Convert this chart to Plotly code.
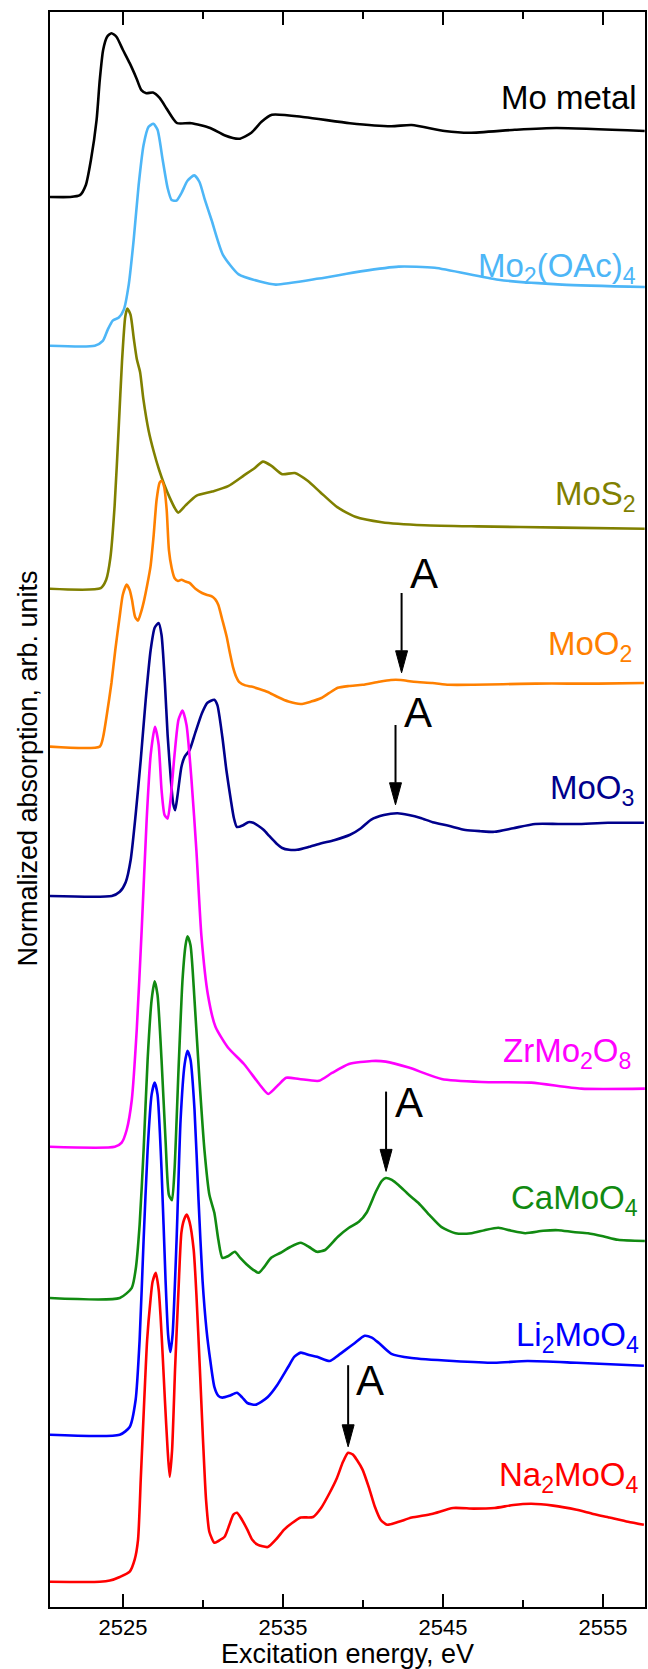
import plotly.graph_objects as go

# ---- Mo L3-edge XANES spectra (normalized absorption, stacked) ----
energy_mo_metal = [2520.44, 2521.69, 2522.31, 2522.68, 2523.0, 2523.35, 2523.55, 2523.76, 2524.01, 2524.28,
                   2524.59, 2525.0, 2525.42, 2525.84, 2526.15, 2526.46, 2526.87, 2527.29, 2527.71, 2528.12,
                   2528.39, 2529.28, 2530.45, 2531.34, 2532.25, 2533.02, 2533.64, 2534.31, 2536.37, 2539.18,
                   2541.77, 2543.04, 2545.1, 2546.65, 2549.49, 2552.07, 2557.6]
mu_mo_metal = [0, 0, 0.03, 0.2, 0.62, 1.28, 1.95, 2.45, 2.67, 2.73,
               2.67, 2.45, 2.23, 1.98, 1.78, 1.73, 1.74, 1.65, 1.48, 1.31,
               1.23, 1.23, 1.15, 1.03, 0.97, 1.07, 1.25, 1.37, 1.33, 1.23,
               1.18, 1.2, 1.1, 1.07, 1.12, 1.15, 1.1]

energy_mo2oac4 = [2520.44, 2523.24, 2523.74, 2524.05, 2524.36, 2524.74, 2525.05, 2525.36, 2525.67, 2525.98,
                  2526.29, 2526.6, 2526.9, 2527.16, 2527.48, 2527.79, 2528.04, 2528.34, 2528.66, 2529.03,
                  2529.45, 2529.78, 2530.12, 2530.53, 2531.24, 2532.23, 2533.56, 2534.55, 2537.25, 2539.85,
                  2542.23, 2544.48, 2548.46, 2552.44, 2557.61]
mu_mo2oac4 = [0, 0, 0.08, 0.27, 0.42, 0.47, 0.6, 1.02, 1.77, 2.68,
              3.35, 3.65, 3.7, 3.6, 3.1, 2.63, 2.43, 2.42, 2.55, 2.75,
              2.84, 2.73, 2.43, 2.1, 1.52, 1.19, 1.07, 1.02, 1.12, 1.24,
              1.32, 1.3, 1.1, 1.02, 0.98]

energy_mos2 = [2520.4, 2523.61, 2523.95, 2524.21, 2524.48, 2524.74, 2524.94, 2525.14, 2525.27, 2525.47,
               2525.67, 2525.87, 2526.07, 2526.27, 2526.6, 2526.93, 2527.26, 2527.59, 2527.92, 2528.25,
               2528.45, 2528.91, 2529.58, 2530.57, 2531.57, 2532.56, 2533.22, 2533.75, 2534.28, 2534.95,
               2535.74, 2536.54, 2537.33, 2538.39, 2539.52, 2541.17, 2543.83, 2547.14, 2552.44, 2557.6]
mu_mos2 = [0, 0.01, 0.15, 0.51, 1.39, 2.72, 3.79, 4.53, 4.67, 4.57,
           4.18, 3.82, 3.61, 3.17, 2.64, 2.28, 1.98, 1.73, 1.52, 1.34,
           1.27, 1.39, 1.55, 1.62, 1.71, 1.89, 2.01, 2.12, 2.05, 1.91,
           1.93, 1.8, 1.61, 1.36, 1.2, 1.11, 1.06, 1.04, 1.02, 1.0]

energy_moo2 = [2520.44, 2523.55, 2523.76, 2523.99, 2524.28, 2524.52, 2524.79, 2524.99, 2525.23, 2525.42,
               2525.56, 2525.76, 2525.94, 2526.14, 2526.33, 2526.52, 2526.72, 2526.92, 2527.1, 2527.29,
               2527.41, 2527.57, 2527.73, 2527.87, 2528.04, 2528.22, 2528.44, 2528.65, 2528.91, 2529.16,
               2529.53, 2529.94, 2530.22, 2530.58, 2530.78, 2530.96, 2531.21, 2531.48, 2531.68, 2531.87,
               2532.08, 2532.25, 2532.64, 2533.02, 2533.52, 2534.05, 2534.64, 2535.34, 2536.11, 2536.75,
               2537.4, 2537.87, 2538.42, 2539.12, 2539.97, 2540.99, 2541.74, 2542.36, 2543.17, 2544.34,
               2545.35, 2546.92, 2548.77, 2550.78, 2552.82, 2554.69, 2557.55]
mu_moo2 = [0, 0, 0.16, 0.53, 1.06, 1.61, 2.16, 2.53, 2.7, 2.61,
           2.45, 2.16, 2.1, 2.25, 2.45, 2.7, 3.0, 3.53, 4.11, 4.4,
           4.43, 4.33, 3.95, 3.28, 2.98, 2.81, 2.76, 2.78, 2.75, 2.73,
           2.63, 2.56, 2.53, 2.5, 2.45, 2.36, 2.11, 1.83, 1.56, 1.33,
           1.16, 1.08, 1.02, 1.0, 0.96, 0.91, 0.83, 0.75, 0.71, 0.75,
           0.81, 0.89, 0.98, 1.01, 1.03, 1.08, 1.11, 1.11, 1.08, 1.06,
           1.03, 1.03, 1.04, 1.05, 1.05, 1.05, 1.06]

energy_moo3 = [2520.44, 2524.3, 2524.8, 2525.17, 2525.48, 2525.79, 2526.11, 2526.42, 2526.73, 2526.98,
               2527.23, 2527.41, 2527.62, 2527.79, 2528.01, 2528.13, 2528.26, 2528.41, 2528.65, 2528.85,
               2529.16, 2529.53, 2529.94, 2530.28, 2530.71, 2530.9, 2531.21, 2531.46, 2531.74, 2531.93,
               2532.12, 2532.51, 2532.83, 2533.14, 2533.45, 2533.8, 2534.14, 2534.57, 2534.95, 2535.38,
               2535.88, 2536.63, 2537.4, 2538.19, 2539.19, 2539.87, 2540.49, 2541.3, 2542.16, 2542.86,
               2543.6, 2544.35, 2545.35, 2546.4, 2547.34, 2548.21, 2549.39, 2550.76, 2552.19, 2553.35,
               2555.31, 2557.55]
mu_moo3 = [0, 0, 0.07, 0.23, 0.6, 1.35, 2.27, 3.27, 4.1, 4.47,
           4.55, 4.35, 3.55, 2.68, 1.88, 1.55, 1.43, 1.68, 2.15, 2.32,
           2.43, 2.73, 3.05, 3.22, 3.27, 3.18, 2.65, 2.1, 1.6, 1.3,
           1.15, 1.18, 1.23, 1.22, 1.17, 1.1, 1.0, 0.88, 0.8, 0.77,
           0.77, 0.82, 0.88, 0.93, 1.02, 1.13, 1.27, 1.35, 1.38, 1.35,
           1.3, 1.23, 1.17, 1.1, 1.08, 1.07, 1.13, 1.2, 1.2, 1.2,
           1.22, 1.22]

energy_zrmo2o8 = [2520.44, 2524.49, 2524.92, 2525.23, 2525.55, 2525.86, 2526.17, 2526.48, 2526.73, 2527.0,
                  2527.23, 2527.41, 2527.6, 2527.79, 2527.97, 2528.22, 2528.47, 2528.72, 2528.97, 2529.28,
                  2529.59, 2529.9, 2530.31, 2530.78, 2531.57, 2532.56, 2533.56, 2534.08, 2534.7, 2535.2,
                  2536.01, 2537.25, 2538.06, 2539.12, 2540.55, 2541.42, 2542.86, 2544.91, 2547.4, 2550.51,
                  2553.63, 2557.61]
mu_zrmo2o8 = [0, 0, 0.07, 0.28, 0.78, 1.95, 3.62, 5.45, 6.53, 7.0,
              6.7, 5.95, 5.53, 5.47, 5.78, 6.53, 7.12, 7.27, 7.03, 6.12,
              4.93, 3.52, 2.53, 2.0, 1.65, 1.38, 1.03, 0.88, 1.03, 1.15,
              1.13, 1.1, 1.23, 1.38, 1.43, 1.42, 1.32, 1.13, 1.08, 1.07,
              0.97, 0.97]

energy_camoo4 = [2520.44, 2524.8, 2525.55, 2525.79, 2526.04, 2526.29, 2526.54, 2526.79, 2526.98, 2527.16,
                 2527.41, 2527.66, 2527.87, 2528.06, 2528.22, 2528.47, 2528.72, 2528.91, 2529.03, 2529.22,
                 2529.47, 2529.78, 2530.09, 2530.4, 2530.71, 2530.96, 2531.21, 2531.59, 2531.99, 2532.33,
                 2532.77, 2533.14, 2533.48, 2533.83, 2534.26, 2534.82, 2535.45, 2536.11, 2536.63, 2537.13,
                 2537.63, 2538.43, 2539.12, 2539.74, 2540.24, 2540.8, 2541.17, 2541.42, 2541.8, 2542.23,
                 2542.86, 2543.48, 2544.16, 2544.91, 2545.78, 2546.78, 2547.59, 2548.46, 2549.27, 2550.14,
                 2551.26, 2552.19, 2553.13, 2554.06, 2555.0, 2555.93, 2557.61]
mu_camoo4 = [0, 0, 0.17, 0.47, 1.22, 2.47, 3.97, 4.97, 5.28, 5.05,
             3.97, 2.63, 1.72, 1.63, 2.13, 3.8, 5.3, 5.88, 6.03, 5.88,
             4.97, 3.63, 2.47, 1.72, 1.42, 0.97, 0.67, 0.7, 0.77, 0.67,
             0.55, 0.47, 0.42, 0.52, 0.67, 0.75, 0.85, 0.92, 0.85, 0.77,
             0.8, 1.02, 1.17, 1.27, 1.43, 1.77, 1.95, 2.0, 1.97, 1.88,
             1.72, 1.58, 1.38, 1.18, 1.08, 1.08, 1.13, 1.17, 1.12, 1.08,
             1.12, 1.13, 1.1, 1.08, 1.03, 0.97, 0.95]

energy_li2moo4 = [2520.44, 2524.8, 2525.42, 2525.79, 2526.04, 2526.29, 2526.54, 2526.79, 2526.98, 2527.16,
                  2527.41, 2527.66, 2527.82, 2527.96, 2528.1, 2528.35, 2528.6, 2528.85, 2529.03, 2529.22,
                  2529.47, 2529.72, 2529.97, 2530.22, 2530.45, 2530.71, 2530.96, 2531.21, 2531.65, 2532.12,
                  2532.46, 2532.77, 2533.27, 2533.64, 2534.05, 2534.64, 2535.32, 2535.7, 2536.11, 2536.63,
                  2537.13, 2537.91, 2538.43, 2538.93, 2539.49, 2540.1, 2540.55, 2540.99, 2541.77, 2543.04,
                  2545.63, 2548.21, 2550.27, 2553.35, 2557.55]
mu_li2moo4 = [0, 0, 0.13, 0.58, 1.58, 3.25, 4.75, 5.67, 5.87, 5.67,
              4.42, 2.58, 1.67, 1.38, 1.67, 3.25, 5.25, 6.17, 6.4, 6.25,
              5.42, 3.92, 2.58, 1.75, 1.25, 0.8, 0.65, 0.62, 0.65, 0.7,
              0.62, 0.53, 0.5, 0.55, 0.63, 0.83, 1.13, 1.3, 1.37, 1.33,
              1.3, 1.23, 1.32, 1.42, 1.53, 1.65, 1.62, 1.53, 1.35, 1.28,
              1.23, 1.2, 1.23, 1.2, 1.15]

energy_na2moo4 = [2520.44, 2523.55, 2524.18, 2524.8, 2525.42, 2525.73, 2525.94, 2526.11, 2526.33, 2526.51,
                  2526.72, 2526.85, 2527.05, 2527.23, 2527.35, 2527.48, 2527.62, 2527.79, 2527.92, 2528.07,
                  2528.26, 2528.47, 2528.65, 2528.81, 2528.98, 2529.16, 2529.42, 2529.59, 2529.8, 2530.0,
                  2530.19, 2530.4, 2530.71, 2530.96, 2531.35, 2531.65, 2531.9, 2532.12, 2532.33, 2532.77,
                  2533.08, 2533.41, 2534.05, 2534.64, 2535.07, 2535.57, 2536.11, 2536.88, 2537.38, 2537.91,
                  2538.37, 2538.75, 2539.07, 2539.37, 2539.62, 2539.97, 2540.37, 2540.74, 2541.11, 2541.51,
                  2542.23, 2543.04, 2544.29, 2545.63, 2546.9, 2548.21, 2549.39, 2550.51, 2551.88, 2553.35,
                  2554.38, 2555.41, 2556.56, 2557.55]
mu_na2moo4 = [0, 0, 0.02, 0.08, 0.17, 0.37, 0.7, 1.7, 3.03, 4.03,
              4.7, 5.0, 5.15, 4.87, 4.42, 3.78, 3.03, 2.2, 1.75, 2.2,
              3.58, 4.87, 5.82, 6.03, 6.12, 6.0, 5.53, 4.78, 3.58, 2.37,
              1.37, 0.83, 0.65, 0.68, 0.75, 0.95, 1.12, 1.15, 1.08, 0.87,
              0.7, 0.62, 0.58, 0.73, 0.87, 0.98, 1.07, 1.08, 1.23, 1.48,
              1.73, 2.0, 2.15, 2.12, 2.03, 1.87, 1.57, 1.25, 1.03, 0.95,
              1.0, 1.07, 1.13, 1.23, 1.22, 1.23, 1.28, 1.3, 1.27, 1.2,
              1.13, 1.07, 1.0, 0.95]

# sample names, vertical offsets of each spectrum, line colours
samples = ["Mo metal", "Mo<sub>2</sub>(OAc)<sub>4</sub>", "MoS<sub>2</sub>", "MoO<sub>2</sub>",
           "MoO<sub>3</sub>", "ZrMo<sub>2</sub>O<sub>8</sub>", "CaMoO<sub>4</sub>",
           "Li<sub>2</sub>MoO<sub>4</sub>", "Na<sub>2</sub>MoO<sub>4</sub>"]
energies = [energy_mo_metal, energy_mo2oac4, energy_mos2, energy_moo2, energy_moo3,
            energy_zrmo2o8, energy_camoo4, energy_li2moo4, energy_na2moo4]
spectra = [mu_mo_metal, mu_mo2oac4, mu_mos2, mu_moo2, mu_moo3,
           mu_zrmo2o8, mu_camoo4, mu_li2moo4, mu_na2moo4]
offsets = [23.5, 21.02, 16.97, 14.34, 11.85, 7.67, 5.15, 2.87, 0.42]
colors = ["#000000", "#4DB6F7", "#808000", "#FF8000", "#00008C",
          "#FF00FF", "#118A11", "#0000FF", "#FF0000"]

# sample-name label anchors (right edge energy, height)
label_x = [2557.24, 2557.18, 2557.18, 2556.93, 2557.08, 2556.87, 2557.3, 2557.34, 2557.34]
label_y = [25.15, 22.32, 18.52, 16.02, 13.62, 9.23, 6.78, 4.5, 2.17]

# feature "A" markers: arrow energy, arrow tail / tip heights, letter position
arrow_e = [2542.41, 2542.03, 2541.44, 2539.07]
arrow_tail = [16.9, 14.7, 8.59, 4.03]
arrow_tip = [15.57, 13.37, 7.26, 2.67]
letter_x = [2543.83, 2543.44, 2542.86, 2540.43]
letter_y = [17.23, 14.9, 8.4, 3.78]

X_RANGE = [2520.44, 2557.62]
Y_RANGE = [0, 26.583]
W, H = 648, 1669
M = dict(l=50, r=1, t=12, b=62)
FONT = "Arial, Liberation Sans, sans-serif"

fig = go.Figure()
for name, e, mu, off, col in zip(samples, energies, spectra, offsets, colors):
    fig.add_trace(go.Scatter(
        x=e, y=[v + off for v in mu], mode="lines", name=name,
        line=dict(color=col, width=2.6, shape="spline", smoothing=0.6),
        showlegend=False, hoverinfo="skip"))

for txt, x, y, col in zip(samples, label_x, label_y, colors):
    fig.add_annotation(x=x, y=y, xref="x", yref="y", text=txt, showarrow=False,
                       xanchor="right", yanchor="middle",
                       font=dict(family=FONT, size=33, color=col))

# arrow geometry: head size given in pixels, converted to data units
px_per_e = (W - M["l"] - M["r"]) / (X_RANGE[1] - X_RANGE[0])
px_per_y = (H - M["t"] - M["b"]) / (Y_RANGE[1] - Y_RANGE[0])
head_w = 6.0 / px_per_e
head_l = 22.0 / px_per_y
for e, y0, y1 in zip(arrow_e, arrow_tail, arrow_tip):
    fig.add_shape(type="line", xref="x", yref="y", x0=e, x1=e, y0=y0, y1=y1 + head_l,
                  line=dict(color="black", width=2))
    fig.add_shape(type="path", xref="x", yref="y",
                  path=f"M {e - head_w},{y1 + head_l} L {e + head_w},{y1 + head_l} L {e},{y1} Z",
                  fillcolor="black", line=dict(color="black", width=1))
for x, y in zip(letter_x, letter_y):
    fig.add_annotation(x=x, y=y, xref="x", yref="y", text="A", showarrow=False,
                       xanchor="center", yanchor="middle",
                       font=dict(family=FONT, size=42, color="black"))

fig.add_annotation(text="Normalized absorption, arb. units", textangle=-90,
                   xref="paper", yref="paper", x=-0.0385, y=0.5257,
                   xanchor="center", yanchor="middle", showarrow=False,
                   font=dict(family=FONT, size=27, color="black"))

fig.update_xaxes(range=X_RANGE, tick0=2525, dtick=10, ticks="inside", ticklen=13, tickwidth=2,
                 tickcolor="black", showline=True, linewidth=2, linecolor="black", mirror="ticks",
                 showgrid=False, zeroline=False,
                 minor=dict(tick0=2520, dtick=5, ticks="inside", ticklen=7, tickwidth=2,
                            tickcolor="black", showgrid=False),
                 tickfont=dict(family=FONT, size=22, color="black"),
                 title=dict(text="Excitation energy, eV", standoff=2,
                            font=dict(family=FONT, size=27, color="black")))
fig.update_yaxes(range=Y_RANGE, showticklabels=False, ticks="", showline=True, linewidth=2,
                 linecolor="black", mirror=True, showgrid=False, zeroline=False)

fig.update_layout(width=W, height=H, margin=M, plot_bgcolor="white", paper_bgcolor="white")
fig.write_html("out.html")
